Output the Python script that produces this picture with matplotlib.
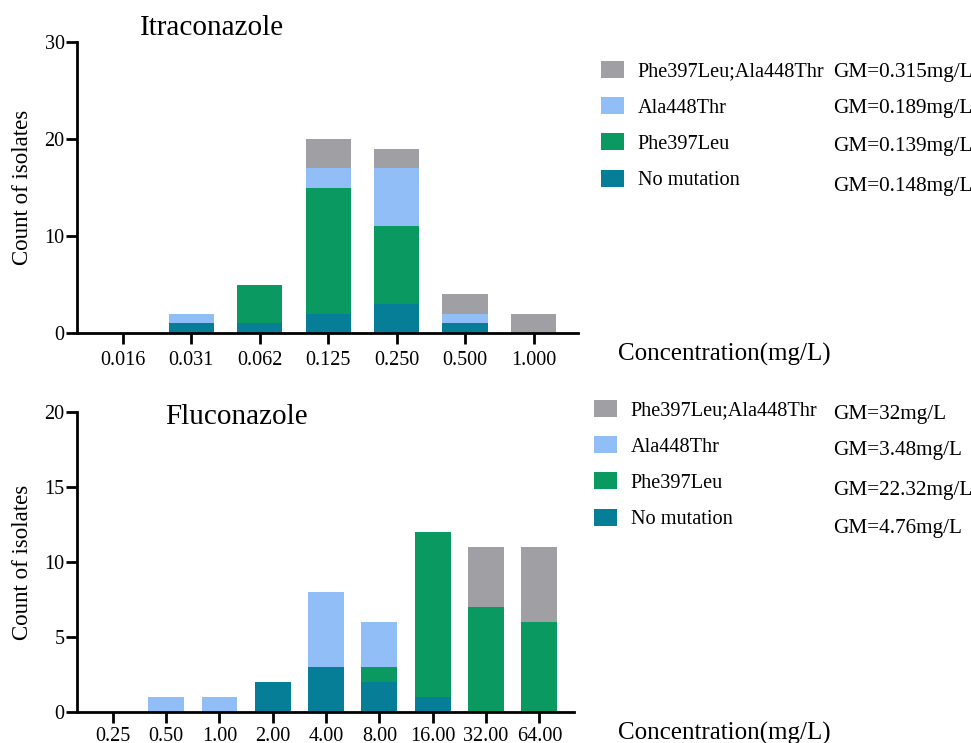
import matplotlib
matplotlib.use("Agg")
import matplotlib.pyplot as plt
import numpy as np

plt.rcParams['font.family'] = ['Liberation Serif', 'DejaVu Serif']

series = ["No mutation", "Phe397Leu", "Ala448Thr", "Phe397Leu;Ala448Thr"]
colors = ["#077E97", "#0A9960", "#92BEF8", "#A09FA4"]

itra_conc = ["0.016", "0.031", "0.062", "0.125", "0.250", "0.500", "1.000"]
itra_nomut = [0, 1, 1, 2, 3, 1, 0]
itra_phe = [0, 0, 4, 13, 8, 0, 0]
itra_ala = [0, 1, 0, 2, 6, 1, 0]
itra_both = [0, 0, 0, 3, 2, 2, 2]
itra_gm = ["GM=0.315mg/L", "GM=0.189mg/L", "GM=0.139mg/L", "GM=0.148mg/L"]

flu_conc = ["0.25", "0.50", "1.00", "2.00", "4.00", "8.00", "16.00", "32.00", "64.00"]
flu_nomut = [0, 0, 0, 2, 3, 2, 1, 0, 0]
flu_phe = [0, 0, 0, 0, 0, 1, 11, 7, 6]
flu_ala = [0, 1, 1, 0, 5, 3, 0, 0, 0]
flu_both = [0, 0, 0, 0, 0, 0, 0, 4, 5]
flu_gm = ["GM=32mg/L", "GM=3.48mg/L", "GM=22.32mg/L", "GM=4.76mg/L"]

fig = plt.figure(figsize=(9.71, 7.43), dpi=100)

def panel(rect, conc, data, ymax, yticks, title, title_xy, xl, gm, gm_y, leg_anchor, width, pad):
    ax = fig.add_axes(rect)
    x = np.arange(len(conc))
    bottom = np.zeros(len(conc))
    bars = []
    for vals, c, name in zip(data, colors, series):
        b = ax.bar(x, vals, width=width, bottom=bottom, color=c, label=name, edgecolor='none')
        bars.append(b)
        bottom += np.array(vals)
    ax.set_xlim(-0.67, len(conc) - 1 + 0.65)
    ax.set_ylim(0, ymax)
    ax.set_yticks(yticks)
    ax.set_xticks(x)
    ax.set_xticklabels(conc)
    for s in ['top', 'right']:
        ax.spines[s].set_visible(False)
    for s in ['left', 'bottom']:
        ax.spines[s].set_linewidth(2)
    ax.tick_params(axis='both', direction='out', length=8, width=2, labelsize=14.5)
    ax.tick_params(axis='x', pad=pad)
    ax.tick_params(axis='y', pad=1)
    ax.set_ylabel("Count of isolates", fontsize=16.5)
    w_px = rect[2] * 971
    ax.yaxis.set_label_coords(-44 / w_px, 0.5)
    fig.text(title_xy[0], title_xy[1], title, fontsize=21, ha='left', va='center')
    fig.text(xl[0], xl[1], "Concentration(mg/L)", fontsize=18, ha='left', va='center')
    h = bars[::-1]
    leg = ax.legend(h, series[::-1], loc='upper left', bbox_to_anchor=leg_anchor,
                    bbox_transform=fig.transFigure, frameon=False, fontsize=14.6,
                    handlelength=1.15, handleheight=0.9, labelspacing=0.78, handletextpad=0.65,
                    borderaxespad=0, borderpad=0)
    for g, yy in zip(gm, gm_y):
        fig.text(833 / 971, 1 - yy / 743, g, fontsize=15.3, ha='left', va='center')
    return ax

panel([77 / 971, 1 - 333 / 743, (578 - 77) / 971, (333 - 42) / 743], itra_conc,
      [itra_nomut, itra_phe, itra_ala, itra_both], 30, [0, 10, 20, 30],
      "Itraconazole", (140 / 971, 1 - 28 / 743), (618 / 971, 1 - 354 / 743),
      itra_gm, [72, 108, 147, 186], (601 / 971, 1 - 61 / 743), 0.66, 5)

panel([77 / 971, 1 - 712 / 743, (574 - 77) / 971, (712 - 412) / 743], flu_conc,
      [flu_nomut, flu_phe, flu_ala, flu_both], 20, [0, 5, 10, 15, 20],
      "Fluconazole", (165 / 971, 1 - 417 / 743), (618 / 971, 1 - 733 / 743),
      flu_gm, [414, 451, 490, 528], (594 / 971, 1 - 400 / 743), 0.67, 3)

fig.savefig("out.png", dpi=100)
